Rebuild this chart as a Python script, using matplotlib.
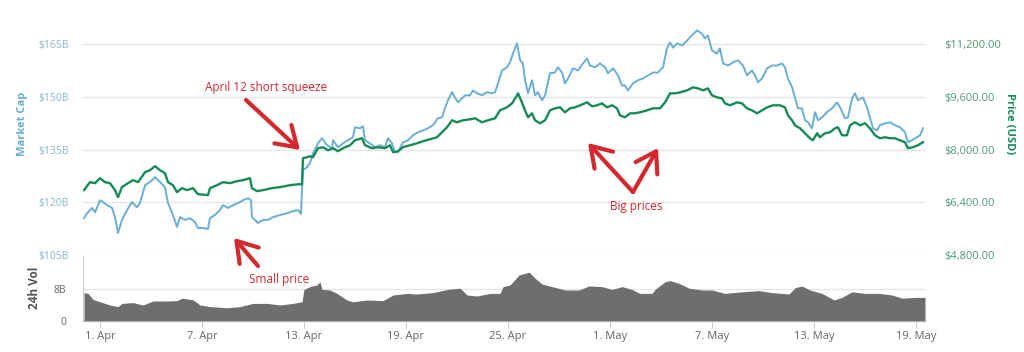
import matplotlib
matplotlib.use('Agg')
import matplotlib.pyplot as plt
from matplotlib.patches import FancyArrowPatch
import pandas as pd

plt.rcParams['font.family'] = ['Open Sans', 'DejaVu Sans']

# Dados (dias desde 1 Abr 2018)
inicio = pd.Timestamp('2018-04-01')

cap_dias = [-0.94, -0.76, -0.47, -0.29, 0, 0.18, 0.41, 0.71, 0.88, 1.06, 1.29, 1.59, 1.88, 2.18, 2.35,
            2.65, 2.94, 3.24, 3.53, 3.82, 4.0, 4.29, 4.53, 4.71, 5.0, 5.29, 5.59, 5.76, 6.06, 6.35,
            6.47, 6.76, 7.06, 7.24, 7.53, 7.82, 8.12, 8.41, 8.71, 8.88, 8.94, 9.12, 9.29, 9.59, 9.88,
            10.18, 10.59, 11.0, 11.35, 11.65, 11.82, 11.94, 12.18, 12.35, 12.53, 12.82, 13.06, 13.35,
            13.65, 13.71, 14.0, 14.29, 14.59, 14.88, 15.0, 15.29, 15.47, 15.59, 15.88, 16.18, 16.47,
            16.76, 16.94, 17.18, 17.35, 17.53, 17.82, 18.12, 18.41, 18.71, 19.0, 19.29, 19.59, 19.88,
            20.12, 20.29, 20.47, 20.71, 20.88, 21.06, 21.29, 21.47, 21.76, 21.94, 22.18, 22.47, 22.76,
            23.06, 23.24, 23.41, 23.65, 23.94, 24.12, 24.29, 24.53, 24.71, 24.88, 25.0, 25.18, 25.41,
            25.59, 25.76, 26.0, 26.18, 26.47, 26.76, 26.94, 27.18, 27.35, 27.53, 27.82, 28.12, 28.41,
            28.65, 28.82, 29.12, 29.41, 29.71, 29.88, 30.18, 30.47, 30.71, 30.88, 31.06, 31.35, 31.65,
            31.94, 32.24, 32.53, 32.82, 33.12, 33.35, 33.53, 33.71, 33.94, 34.24, 34.53, 34.82, 35.12,
            35.41, 35.59, 35.76, 36.0, 36.29, 36.47, 36.65, 36.94, 37.24, 37.53, 37.82, 38.06, 38.35,
            38.53, 38.71, 38.94, 39.24, 39.53, 39.82, 40.12, 40.29, 40.47, 40.71, 40.88, 41.06, 41.29,
            41.47, 41.65, 41.88, 42.06, 42.24, 42.47, 42.76, 43.06, 43.35, 43.53, 43.82, 44.0, 44.24,
            44.41, 44.59, 44.88, 45.12, 45.29, 45.47, 45.71, 45.88, 46.18, 46.47, 46.76, 47.06, 47.35,
            47.53, 47.76, 48.06, 48.24, 48.41]
market_cap = [115.5, 116.9, 118.4, 117.2, 120.6, 120.1, 119.2, 118.4, 115.8, 111.3, 115.0, 117.8, 120.1, 118.6, 119.8,
              124.9, 125.8, 127.2, 125.8, 124.3, 119.8, 116.4, 113.0, 115.8, 115.0, 115.5, 114.4, 112.7, 112.7, 112.4,
              115.5, 116.4, 117.8, 119.2, 118.4, 119.2, 119.8, 120.6, 121.2, 120.6, 115.8, 115.0, 114.1, 115.0, 115.0,
              115.8, 116.4, 116.9, 117.5, 117.8, 116.7, 129.2, 130.0, 131.2, 134.0, 136.8, 138.3, 136.3,
              135.4, 137.7, 135.7, 136.8, 137.7, 138.6, 141.4, 141.1, 141.7, 137.7, 136.8, 135.7, 136.3,
              135.7, 138.3, 136.8, 134.3, 134.3, 137.1, 137.7, 139.1, 140.0, 140.5, 141.1, 142.0, 144.0,
              144.2, 146.8, 149.1, 151.4, 149.9, 148.5, 149.6, 150.5, 150.5, 151.9, 151.1, 150.5, 151.4,
              151.1, 151.4, 153.9, 157.6, 158.5, 159.9, 162.4, 165.3, 160.5, 159.6, 154.8, 151.1, 154.8,
              150.5, 151.4, 149.1, 150.5, 156.8, 157.0, 158.5, 157.0, 153.9, 155.3, 158.2, 157.6, 159.6,
              161.0, 159.0, 158.5, 159.6, 158.5, 156.8, 158.2, 156.2, 153.3, 153.3, 151.9, 153.9, 154.8,
              155.3, 156.2, 157.0, 157.0, 158.5, 163.9, 165.6, 164.1, 165.3, 164.7, 166.1, 167.6, 169.0,
              168.1, 166.7, 167.6, 163.3, 162.4, 163.9, 159.6, 159.0, 159.9, 160.5, 159.0, 156.2, 157.6,
              156.2, 154.2, 155.3, 158.2, 159.0, 159.0, 159.6, 158.5, 155.3, 152.8, 149.9, 146.8, 146.8,
              143.4, 142.8, 141.1, 145.7, 143.4, 144.2, 145.7, 146.8, 148.5, 147.1, 144.0, 144.2, 149.6,
              151.1, 149.1, 149.9, 147.1, 144.2, 141.1, 140.5, 142.0, 142.5, 142.8, 142.0, 141.4, 140.0,
              137.1, 137.7, 138.6, 139.1, 141.1]

preco_dias = [-0.94, -0.59, -0.29, 0, 0.29, 0.59, 0.88, 1.06, 1.29, 1.65, 1.94, 2.24, 2.65, 2.94, 3.24,
              3.53, 3.82, 4.0, 4.29, 4.53, 4.82, 5.12, 5.47, 5.76, 6.35, 6.47, 6.88, 7.24, 7.65, 8.06,
              8.41, 8.82, 8.94, 9.24, 9.59, 10.12, 10.59, 11.18, 11.76, 11.88, 11.94, 12.18, 12.35, 12.53,
              12.82, 13.12, 13.41, 13.71, 14.0, 14.29, 14.71, 15.0, 15.41, 15.59, 16.0, 16.35, 16.76,
              17.06, 17.24, 17.53, 17.82, 18.24, 18.65, 19.0, 19.41, 19.82, 20.12, 20.41, 20.71, 21.0,
              21.35, 21.76, 22.06, 22.47, 22.82, 23.24, 23.53, 23.94, 24.24, 24.53, 24.59, 24.82, 25.0,
              25.18, 25.41, 25.59, 25.88, 26.18, 26.47, 26.76, 27.06, 27.35, 27.65, 27.94, 28.24, 28.65,
              28.94, 29.24, 29.53, 29.82, 30.12, 30.41, 30.59, 30.88, 31.18, 31.47, 31.76, 32.18, 32.53,
              32.94, 33.24, 33.53, 33.82, 34.12, 34.53, 34.88, 35.18, 35.47, 35.76, 36.0, 36.29, 36.59,
              36.76, 37.06, 37.47, 37.76, 38.06, 38.35, 38.65, 38.94, 39.24, 39.59, 40.0, 40.29, 40.47,
              40.71, 40.88, 41.18, 41.47, 41.76, 41.94, 42.18, 42.35, 42.65, 42.94, 43.24, 43.41, 43.65,
              43.94, 44.12, 44.41, 44.71, 45.0, 45.29, 45.59, 45.88, 46.18, 46.47, 46.76, 47.06, 47.35,
              47.53, 47.82, 48.12, 48.41]
preco = [6772, 7014, 6984, 7136, 7014, 6984, 6772, 6560, 6863, 6984, 7075, 7014, 7318, 7378, 7500,
         7378, 7287, 7014, 6923, 6711, 6832, 6772, 6832, 6650, 6620, 6832, 6923, 7014, 6984, 7045,
         7075, 7136, 6832, 6741, 6772, 6832, 6863, 6923, 6954, 6940, 7742, 7773, 7803, 7773,
         8046, 8076, 7985, 8046, 7955, 8046, 8137, 8288, 8349, 8137, 8046, 8076, 8046,
         8137, 7924, 7955, 8076, 8137, 8197, 8258, 8319, 8379, 8531, 8683, 8895, 8834,
         8895, 8925, 8956, 8834, 8895, 8956, 9198, 9289, 9411, 9653, 9714, 9441, 9198,
         8986, 9107, 8895, 8804, 8895, 9198, 9259, 9289, 9138, 9259, 9289, 9350, 9441,
         9320, 9350, 9411, 9289, 9350, 9259, 9047, 8986, 9107, 9107, 9138, 9198, 9259,
         9259, 9441, 9714, 9714, 9744, 9805, 9896, 9865, 9805, 9865, 9653, 9593, 9562,
         9411, 9350, 9441, 9411, 9259, 9198, 9107, 9198, 9289, 9350, 9350, 9289, 9047,
         8895, 8743, 8652, 8501, 8349, 8288, 8501, 8379, 8501, 8531, 8652, 8683, 8440,
         8440, 8743, 8834, 8743, 8804, 8652, 8440, 8349, 8379, 8349, 8349, 8288, 8228,
         8046, 8076, 8137, 8228]

vol_dias = [-0.94, -0.71, -0.41, 0, 0.59, 1.06, 1.29, 1.94, 2.53, 3.12, 3.94, 4.53, 4.82, 5.47, 5.88,
            6.47, 7.47, 8.24, 9.0, 9.82, 10.59, 11.35, 11.88, 12.0, 12.35, 12.76, 12.94, 13.06, 13.53,
            13.94, 14.53, 14.88, 15.71, 16.65, 17.24, 18.06, 18.65, 19.59, 20.47, 21.18, 21.59, 22.18,
            22.94, 23.53, 23.71, 24.12, 24.65, 25.24, 25.59, 26.0, 26.59, 27.35, 28.18, 28.76, 29.53,
            30.12, 30.71, 31.29, 31.76, 32.47, 32.65, 33.24, 33.53, 34.06, 34.65, 35.41, 36.0, 36.76,
            37.76, 38.76, 39.53, 40.53, 40.88, 41.29, 41.76, 42.47, 43.18, 43.65, 44.24, 45.0, 45.82,
            46.59, 47.18, 47.94, 48.53]
volume = [7.1, 6.9, 5.4, 4.8, 4.0, 3.6, 4.4, 4.6, 4.0, 5.0, 5.0, 5.1, 5.7, 5.3, 4.0,
          3.6, 3.3, 3.6, 4.4, 4.4, 4.0, 4.4, 4.8, 7.9, 8.6, 9.0, 9.8, 7.9, 7.75,
          6.9, 5.25, 4.8, 5.25, 5.1, 6.5, 6.9, 6.75, 7.1, 7.9, 8.2, 6.5, 6.25,
          6.9, 6.9, 8.6, 9.0, 11.5, 12.2, 10.7, 9.25, 8.6, 7.75, 7.75, 8.75, 8.6,
          7.9, 8.6, 7.9, 6.9, 6.9, 7.9, 9.8, 10.1, 9.4, 8.2, 7.75, 7.75, 6.9,
          7.3, 7.6, 7.1, 6.75, 8.3, 8.75, 7.75, 6.9, 5.25, 5.9, 7.3, 6.9, 6.9,
          6.5, 5.7, 5.9, 5.9]

cap_ticks = [105, 120, 135, 150, 165]
preco_ticks = [4800, 6400, 8000, 9600, 11200]
datas_ticks = ['2018-04-01', '2018-04-07', '2018-04-13', '2018-04-19', '2018-04-25',
               '2018-05-01', '2018-05-07', '2018-05-13', '2018-05-19']
datas_rotulos = ['1. Apr', '7. Apr', '13. Apr', '19. Apr', '25. Apr',
                 '1. May', '7. May', '13. May', '19. May']

def para_data(dias):
    return inicio + pd.to_timedelta(dias, unit='D')

azul = '#6aaed6'
verde = '#178a57'
vermelho = '#d2282e'

fig = plt.figure(figsize=(10.24, 3.52), dpi=100)
ax = fig.add_axes([83/1024, 97/352, 842/1024, 233/352])
axv = fig.add_axes([83/1024, 31/352, 842/1024, 65/352], sharex=ax)

# Painel principal
topo = 171.4
ax.plot(para_data(cap_dias), market_cap, color=azul, lw=1.4)
ax.set_ylim(105, topo)
ax.set_yticks(cap_ticks)
ax.set_yticklabels(['$%dB' % v for v in cap_ticks], color='#86b6cf', fontsize=7.5)
ax.grid(axis='y', color='#e4e4e4', lw=0.9)
ax.set_axisbelow(True)
for s in ax.spines.values():
    s.set_visible(False)
ax.tick_params(axis='y', length=0, pad=10)
ax.tick_params(axis='x', bottom=False, labelbottom=False)

ax2 = ax.twinx()
ax2.plot(para_data(preco_dias), preco, color=verde, lw=1.7)
ax2.set_ylim(4800, 4800 + (topo - 105) * 1600 / 15)
ax2.set_yticks(preco_ticks)
ax2.set_yticklabels(['${:,.2f}'.format(v) for v in preco_ticks], color='#4f9a78', fontsize=8)
for s in ax2.spines.values():
    s.set_visible(False)
ax2.tick_params(axis='y', length=0, pad=14)

# Volume
axv.fill_between(para_data(vol_dias), volume, color='#6e6e6e', lw=0)
axv.set_ylim(0, 16.25)
axv.set_yticks([0, 8])
axv.set_yticklabels(['0', '8B'], color='#666666', fontsize=7.5)
axv.grid(axis='y', color='#e4e4e4', lw=0.9)
axv.set_axisbelow(True)
for lado in ['top', 'right']:
    axv.spines[lado].set_visible(False)
axv.spines['left'].set_color('#cccccc')
axv.spines['bottom'].set_color('#aaaaaa')
axv.tick_params(axis='y', length=0, pad=12)
axv.set_xticks(pd.to_datetime(datas_ticks))
axv.set_xticklabels(datas_rotulos, color='#666666', fontsize=8)
axv.tick_params(axis='x', length=5, color='#cccccc', pad=2)
axv.set_xlim(para_data(-1.0), para_data(48.53))

fig.text(22/1024, 1 - 124/352, 'Market Cap', rotation=90, color=azul, fontsize=8,
         fontweight='bold', ha='center', va='center')
fig.text(35/1024, 1 - 288/352, '24h Vol', rotation=90, color='#555555', fontsize=8.5,
         fontweight='bold', ha='center', va='center')
fig.text(1010/1024, 1 - 124/352, 'Price (USD)', rotation=270, color=verde, fontsize=8,
         fontweight='bold', ha='center', va='center')

# Anotações
fig.text(266/1024, 1 - 87/352, 'April 12 short squeeze', color=vermelho, fontsize=8.5,
         ha='center', va='center')
fig.text(279/1024, 1 - 279/352, 'Small price', color=vermelho, fontsize=8.5,
         ha='center', va='center')
fig.text(636/1024, 1 - 207/352, 'Big prices', color=vermelho, fontsize=8.5,
         ha='center', va='center')

setas = [((246, 100), (300, 150)), ((258, 266), (234, 238)),
         ((633, 192), (588, 143)), ((633, 192), (658, 148))]
for (x0, y0), (x1, y1) in setas:
    seta = FancyArrowPatch((x0 / 1024, 1 - y0 / 352), (x1 / 1024, 1 - y1 / 352),
                           transform=fig.transFigure,
                           arrowstyle='->, head_length=0.7, head_width=0.45',
                           color=vermelho, lw=3, mutation_scale=20,
                           shrinkA=0, shrinkB=0, zorder=10)
    fig.add_artist(seta)

fig.savefig('out.png', dpi=100, facecolor='white')
